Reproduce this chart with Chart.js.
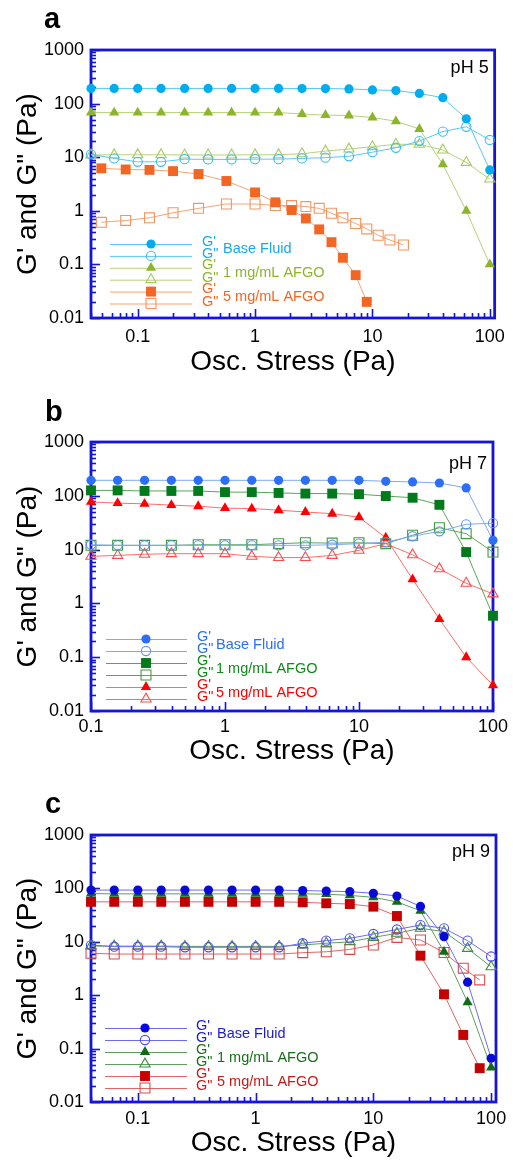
<!DOCTYPE html>
<html>
<head>
<meta charset="utf-8">
<script src="https://cdn.jsdelivr.net/npm/chart.js@4.4.1/dist/chart.umd.min.js"></script>
<style>
body{margin:0;background:#fff;width:513px;height:1163px;position:relative;overflow:hidden}
canvas{position:absolute;left:0}
</style>
</head>
<body>
<canvas id="cA" width="513" height="380" style="top:0px"></canvas>
<canvas id="cB" width="513" height="390" style="top:380px"></canvas>
<canvas id="cC" width="513" height="393" style="top:770px"></canvas>
<script>
// stress values (Pa)
const xStd = [0.04, 0.063, 0.1, 0.158, 0.251, 0.398, 0.631, 1, 1.585, 2.512, 3.981, 6.31, 10, 15.85, 25.12, 39.81, 63.1, 100];
const xAfgo5pH5 = [0.049, 0.079, 0.126, 0.2, 0.33, 0.57, 1.0, 1.49, 2.05, 2.71, 3.52, 4.48, 5.6, 7.2, 8.95, 11.2, 14.1, 18.4];
const xPH7 = [0.1, 0.158, 0.251, 0.398, 0.631, 1, 1.585, 2.512, 3.981, 6.31, 10, 15.85, 25.12, 39.81, 63.1, 100];
const xAfgo5pH9 = [0.04, 0.063, 0.1, 0.158, 0.251, 0.398, 0.631, 1, 1.585, 2.512, 3.981, 6.31, 10, 15.85, 25.12, 39.81, 58, 80];

// pH 5
const baseG1pH5 = [192, 192, 192, 192, 192, 192, 192, 192, 192, 191, 191, 188, 180, 175, 155, 129, 52, 5.8];
const baseG2pH5 = [11.3, 9.5, 8.2, 8.2, 9.2, 9.1, 9.1, 9.2, 9.2, 9.5, 9.8, 10.4, 12.4, 15, 20, 30, 37, 21];
const afgo1G1pH5 = [68, 68, 68, 68, 68, 68, 68, 68, 68, 64, 61, 60, 55, 47, 33.6, 7.4, 1.0, 0.1];
const afgo1G2pH5 = [11, 11.1, 11.1, 11.1, 11, 11, 11, 11.1, 11.1, 11.6, 13, 14.2, 15.7, 17.4, 17.4, 13.6, 8.0, 3.9];
const afgo5G1pH5 = [6.2, 5.9, 5.8, 5.5, 4.85, 3.6, 2.2, 1.44, 1.03, 0.72, 0.45, 0.26, 0.133, 0.063, 0.020];
const afgo5G2pH5 = [0.61, 0.66, 0.74, 0.92, 1.11, 1.34, 1.34, 1.25, 1.25, 1.2, 1.11, 0.9, 0.74, 0.58, 0.46, 0.35, 0.285, 0.23];

// pH 7
const baseG1pH7 = [194, 194, 194, 194, 194, 194, 194, 194, 194, 194, 194, 186, 181, 173, 140, 14.9];
const baseG2pH7 = [12.3, 12, 12, 12, 12, 12, 12, 12, 12, 12.3, 12.9, 13.8, 17.7, 21.9, 29.5, 31];
const afgo1G1pH7 = [126, 126, 123, 123, 123, 117, 117, 113, 110, 110, 107, 99, 92, 68, 9.0, 0.59];
const afgo1G2pH7 = [12, 12, 12, 12, 12.3, 12.3, 12.3, 12.9, 13.4, 13.2, 13.4, 12.9, 18.5, 25.5, 19.8, 9.0];
const afgo5G1pH7 = [77, 73, 71, 67, 64, 59, 58, 54, 50, 46.5, 40, 16.6, 2.8, 0.51, 0.1, 0.03];
const afgo5G2pH7 = [7.5, 7.8, 8.2, 8.4, 8.4, 8.4, 7.5, 7.1, 7.1, 7.8, 9.7, 12.9, 8.0, 4.4, 2.37, 1.5];

// pH 9
const baseG1pH9 = [93, 93, 93, 93, 93, 93, 93, 93, 93, 91, 89, 87, 81, 72, 46, 12.5, 1.75, 0.066];
const baseG2pH9 = [8.7, 8.1, 8.1, 8.1, 7.9, 7.9, 7.9, 7.9, 7.9, 9.4, 10.5, 11.6, 14, 17, 20.6, 17.9, 10.5, 5.3];
const afgo1G1pH9 = [80, 79, 79, 79, 79, 79, 79, 79, 79, 79, 78, 74, 68, 56, 38, 6.5, 0.74, 0.044];
const afgo1G2pH9 = [8.3, 8.3, 8.3, 8.3, 8.2, 8.2, 8.2, 8.2, 8.2, 8.7, 9.4, 10, 12.1, 14.4, 17.9, 15.5, 7.5, 3.4];
const afgo5G1pH9 = [56, 56, 56, 56, 56, 56, 56, 56, 56, 55, 52.6, 51, 45.5, 30.4, 5.5, 1.04, 0.18, 0.043];
const afgo5G2pH9 = [6.1, 5.9, 5.9, 5.9, 5.9, 5.9, 5.9, 5.9, 5.9, 6.25, 6.5, 7.2, 8.7, 12.1, 10.8, 6.3, 3.2, 1.93];

const groupNames = ["Base Fluid", "1 mg/mL AFGO", "5 mg/mL AFGO"];
const yTickVals = [0.01, 0.1, 1, 10, 100, 1000];
const yTickLabels = ["0.01", "0.1", "1", "10", "100", "1000"];
const xTickVals = [0.1, 1, 10, 100];
const xTickLabels = ["0.1", "1", "10", "100"];

const FONT = "'Liberation Sans', Arial, sans-serif";
const FRAME = "#1515d5";
const R_CIRCLE = 4.6, R_TRI = 5.9, R_RECT = 7.0;

function series(label, xs, ys, shape, r, filled, color, line){
  return {
    label: label,
    data: xs.slice(0, ys.length).map((x, i) => ({x: x, y: ys[i]})),
    borderColor: line, borderWidth: 1,
    pointStyle: shape, pointRadius: r, pointHoverRadius: r,
    pointBackgroundColor: filled ? color : "rgba(0,0,0,0)",
    pointBorderColor: color, pointBorderWidth: filled ? 0 : 1.1,
    fill: false, tension: 0, clip: false
  };
}

function minorVals(min, max){
  const out = [];
  for(let d = Math.floor(Math.log10(min)); d <= Math.ceil(Math.log10(max)); d++){
    for(let m = 1; m <= 9; m++){
      const v = m * Math.pow(10, d);
      if(v >= min * 0.999 && v <= max * 1.001) out.push({v: v, major: m === 1});
    }
  }
  return out;
}

const framePlugin = {
  id: "frame",
  beforeDatasetsDraw(chart){
    const {ctx, chartArea: a, scales} = chart;
    ctx.save();
    ctx.strokeStyle = FRAME;
    ctx.lineWidth = 1.6;
    minorVals(scales.y.min, scales.y.max).forEach(t => {
      const y = Math.round(scales.y.getPixelForValue(t.v)) + 0.5;
      ctx.beginPath(); ctx.moveTo(a.left, y); ctx.lineTo(a.left + (t.major ? 9 : 5), y); ctx.stroke();
    });
    minorVals(scales.x.min, scales.x.max).forEach(t => {
      const x = Math.round(scales.x.getPixelForValue(t.v)) + 0.5;
      ctx.beginPath(); ctx.moveTo(x, a.bottom); ctx.lineTo(x, a.bottom - (t.major ? 9 : 5)); ctx.stroke();
    });
    ctx.lineWidth = 2.8;
    ctx.strokeRect(a.left, a.top, a.right - a.left, a.bottom - a.top);
    ctx.restore();
  },
  afterDraw(chart){
    const p = chart.options.plugins.frame;
    const {ctx, chartArea: a} = chart;
    const ds = chart.data.datasets;
    const L = p.legend;
    ctx.save();
    // panel letter
    ctx.fillStyle = "#000";
    ctx.font = "bold 29px " + FONT;
    ctx.textBaseline = "alphabetic";
    ctx.textAlign = "left";
    ctx.fillText(p.letter, p.letterX, p.letterY);
    // pH label
    ctx.font = "18px " + FONT;
    ctx.textAlign = "right";
    ctx.fillText(p.ph, a.right - 6, a.top + p.phDy);
    // legend
    const rowY = i => a.top + L.y0 + i * L.dy;
    ds.forEach((d, i) => {
      const y = rowY(i);
      ctx.strokeStyle = d.borderColor;
      ctx.lineWidth = 1;
      ctx.beginPath(); ctx.moveTo(a.left + L.x0, y + 0.5); ctx.lineTo(a.left + L.x1, y + 0.5); ctx.stroke();
      ctx.fillStyle = d.pointBackgroundColor;
      ctx.strokeStyle = d.pointBorderColor;
      ctx.lineWidth = d.pointBorderWidth;
      Chart.helpers.drawPoint(ctx, {pointStyle: d.pointStyle, radius: d.pointRadius, borderWidth: d.pointBorderWidth, rotation: 0}, a.left + L.mx, y);
    });
    ctx.textAlign = "left";
    ctx.textBaseline = "middle";
    groupNames.forEach((g, k) => {
      ctx.fillStyle = p.textColors[k];
      ctx.font = "14.5px " + FONT;
      ctx.fillText("G'", a.left + L.gx, rowY(2 * k) - 2.5);
      ctx.fillText("G\"", a.left + L.gx, rowY(2 * k + 1) - 2);
      ctx.fillText(g, a.left + L.tx, (rowY(2 * k) + rowY(2 * k + 1)) / 2 - 0.5);
    });
    ctx.restore();
  }
};

function panel(id, cfg){
  new Chart(document.getElementById(id), {
    type: "line",
    data: {datasets: cfg.datasets},
    plugins: [framePlugin],
    options: {
      responsive: false,
      animation: false,
      events: [],
      layout: {padding: {top: cfg.padTop, right: cfg.padRight, left: 0, bottom: 0}},
      plugins: {
        legend: {display: false},
        tooltip: {enabled: false},
        frame: cfg.frame
      },
      scales: {
        x: {
          type: "logarithmic", position: "bottom",
          min: cfg.xMin, max: cfg.xMax,
          grid: {display: false, drawTicks: false},
          border: {display: false},
          afterBuildTicks: s => { s.ticks = xTickVals.map(v => ({value: v})); },
          afterFit: s => { s.height = cfg.xHeight; },
          ticks: {
            autoSkip: false, maxRotation: 0, padding: cfg.xTickPad, color: "#000",
            font: {family: FONT, size: 18},
            callback: (v, i) => xTickLabels[i]
          },
          title: {display: true, text: "Osc. Stress (Pa)", color: "#000",
            font: {family: FONT, size: 28}, padding: {top: 0, bottom: cfg.xTitlePad}}
        },
        y: {
          type: "logarithmic", position: "left",
          min: 0.01, max: 1000,
          grid: {display: false, drawTicks: false},
          border: {display: false},
          afterBuildTicks: s => { s.ticks = yTickVals.map(v => ({value: v})); },
          afterFit: s => { s.width = 91; },
          ticks: {
            autoSkip: false, padding: 7, color: "#000",
            font: {family: FONT, size: 18},
            callback: (v, i) => yTickLabels[i]
          },
          title: {display: true, text: "G' and G\" (Pa)", color: "#000",
            font: {family: FONT, size: 28}, padding: {top: 11, bottom: 0}}
        }
      }
    }
  });
}

panel("cA", {
  padTop: 50, padRight: 17, xMin: 0.04, xMax: 110, xHeight: 62, xTickPad: 8, xTitlePad: 1,
  datasets: [
    series("Base Fluid G'", xStd, baseG1pH5, "circle", R_CIRCLE, true, "#00adee", "#5cc6f2"),
    series("Base Fluid G\"", xStd, baseG2pH5, "circle", R_CIRCLE, false, "#3bbcf0", "#5cc6f2"),
    series("1 mg/mL AFGO G'", xStd, afgo1G1pH5, "triangle", R_TRI, true, "#8db52c", "#b5d27a"),
    series("1 mg/mL AFGO G\"", xStd, afgo1G2pH5, "triangle", R_TRI, false, "#a9c862", "#b5d27a"),
    series("5 mg/mL AFGO G'", xAfgo5pH5, afgo5G1pH5, "rect", R_RECT, true, "#f26522", "#f6a273"),
    series("5 mg/mL AFGO G\"", xAfgo5pH5, afgo5G2pH5, "rect", R_RECT, false, "#f4955f", "#f6a273")
  ],
  frame: {letter: "a", letterX: 44, letterY: 28, ph: "pH 5", phDy: 23,
    textColors: ["#1aa9ea", "#8db52c", "#f26522"],
    legend: {x0: 19, x1: 101, mx: 60, y0: 194, dy: 11.9, gx: 111, tx: 132}}
});

panel("cB", {
  padTop: 62, padRight: 16, xMin: 0.1, xMax: 100, xHeight: 59, xTickPad: 5, xTitlePad: 1.5,
  datasets: [
    series("Base Fluid G'", xPH7, baseG1pH7, "circle", R_CIRCLE, true, "#2a6ff6", "#80a8f8"),
    series("Base Fluid G\"", xPH7, baseG2pH7, "circle", R_CIRCLE, false, "#5e93f6", "#80a8f8"),
    series("1 mg/mL AFGO G'", xPH7, afgo1G1pH7, "rect", R_RECT, true, "#007a1a", "#5aa45a"),
    series("1 mg/mL AFGO G\"", xPH7, afgo1G2pH7, "rect", R_RECT, false, "#3f9c3f", "#5aa45a"),
    series("5 mg/mL AFGO G'", xPH7, afgo5G1pH7, "triangle", R_TRI, true, "#ff0000", "#ff6b6b"),
    series("5 mg/mL AFGO G\"", xPH7, afgo5G2pH7, "triangle", R_TRI, false, "#ff4d4d", "#ff6b6b")
  ],
  frame: {letter: "b", letterX: 45, letterY: 41, ph: "pH 7", phDy: 27,
    textColors: ["#2a6ff6", "#108a18", "#ff0000"],
    legend: {x0: 15, x1: 96, mx: 55, y0: 197, dy: 12, gx: 106, tx: 125}}
});

panel("cC", {
  padTop: 65, padRight: 17, xMin: 0.04, xMax: 110, xHeight: 61, xTickPad: 6, xTitlePad: 3,
  datasets: [
    series("Base Fluid G'", xStd, baseG1pH9, "circle", R_CIRCLE, true, "#0a0ad8", "#6b6bf2"),
    series("Base Fluid G\"", xStd, baseG2pH9, "circle", R_CIRCLE, false, "#4a4af0", "#6b6bf2"),
    series("1 mg/mL AFGO G'", xStd, afgo1G1pH9, "triangle", R_TRI, true, "#136a1b", "#5f9d5f"),
    series("1 mg/mL AFGO G\"", xStd, afgo1G2pH9, "triangle", R_TRI, false, "#3f8c3f", "#5f9d5f"),
    series("5 mg/mL AFGO G'", xAfgo5pH9, afgo5G1pH9, "rect", R_RECT, true, "#c40000", "#e26464"),
    series("5 mg/mL AFGO G\"", xAfgo5pH9, afgo5G2pH9, "rect", R_RECT, false, "#e04848", "#e26464")
  ],
  frame: {letter: "c", letterX: 45, letterY: 43, ph: "pH 9", phDy: 22,
    textColors: ["#1a1ad2", "#1a6e1a", "#c81818"],
    legend: {x0: 14, x1: 96, mx: 54, y0: 193, dy: 12, gx: 105, tx: 126}}
});
</script>
</body>
</html>
